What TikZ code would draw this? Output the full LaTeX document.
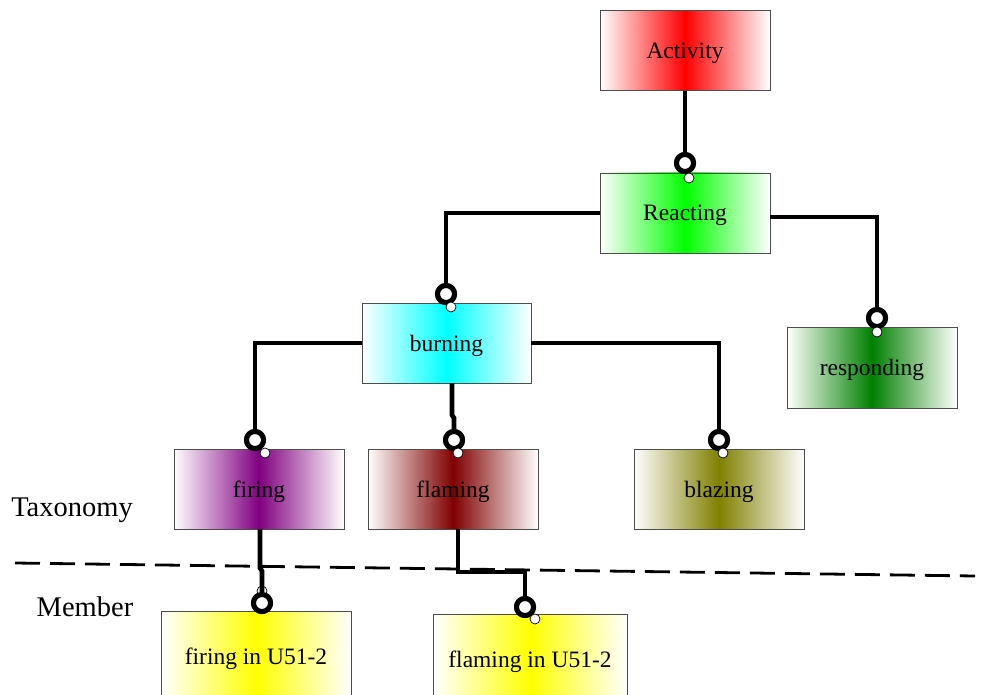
\documentclass[tikz,border=0pt]{standalone}
\usepackage{fontspec}
\setmainfont{Liberation Serif}
\definecolor{darkgreen}{RGB}{0,128,0}
\definecolor{violetpurple}{RGB}{128,0,128}
\definecolor{maroon}{RGB}{128,0,0}
\definecolor{olivebrown}{RGB}{128,128,0}
\begin{document}
\begin{tikzpicture}[x=1pt,y=-1pt,
  box/.style={draw=black!70,line width=0.8pt,minimum width=170pt,minimum height=80pt,
    inner sep=0pt,font=\fontsize{23.5}{28}\selectfont,
    left color=white,right color=white,middle color=#1},
  conn/.style={line width=4.6pt,line join=miter},
  ring/.style={circle,draw=black,fill=white,line width=5pt,minimum size=17pt,inner sep=0pt,outer sep=0pt},
  dot/.style={circle,draw=black,fill=white,line width=0.7pt,minimum size=10pt,inner sep=0pt},
  lbl/.style={font=\fontsize{28.5}{34}\selectfont}]
\useasboundingbox (0,0) rectangle (982,695);

% taxonomy / member divider
\draw[line width=2.8pt,dash pattern=on 25pt off 10pt] (15,563) -- (975,576);
\node[lbl] (tax) at (72,510) {Taxonomy};
\node[lbl] (mem) at (85,607) {Member};

% boxes (text sits a little below the box centre)
\begin{scope}[every node/.append style={text depth=0pt, text height=16pt}]
\node[box=red] (act) at (685,50.5) {Activity};
\node[box=green] (rea) at (685,213) {Reacting};
\node[box=cyan, minimum width=169pt] (bur) at (446.5,343) {burning};
\node[box=darkgreen, minimum height=81pt] (res) at (872,367.5) {responding};
\node[box=violetpurple] (fir) at (259,489) {firing};
\node[box=maroon] (fla) at (453,489) {flaming};
\node[box=olivebrown] (bla) at (719,489) {blazing};
\node[box=yellow, minimum width=190pt, minimum height=90pt] (fu) at (256,656) {firing in U51-2};
\node[box=yellow, minimum width=194pt, minimum height=90pt] (flu) at (530,659) {flaming in U51-2};
\end{scope}

% end rings of the connectors
\node[ring] (r1) at (685,163) {};
\node[ring] (r2) at (446,294) {};
\node[ring] (r3) at (877,318) {};
\node[ring] (r4) at (255,440) {};
\node[ring] (r5) at (454,440) {};
\node[ring] (r6) at (719,440) {};
\node[ring] (r7) at (262,603) {};
\node[ring] (r8) at (525,607) {};

% small marker hidden under the firing connector
\node[dot] (d7) at (262,591) {};

% connectors
\draw[conn] (act.south) -- (r1);
\draw[conn] (rea.west) -| (r2);
\draw[conn] ([yshift=-4pt]rea.east) -| (r3);
\draw[conn] (bur.west) -| (r4);
\draw[conn] ([xshift=5.5pt]bur.south) -- (452,415) -- (454,418) -- (r5);
\draw[conn] (bur.east) -| (r6);
\draw[conn] ([xshift=1pt]fir.south) -- (260,568) -- (262,571) -- (r7);
\draw[conn] ([xshift=5pt]fla.south) -- (458,572) -| (r8);

% redraw rings over the line ends
\foreach \r in {r1,r2,r3,r4,r5,r6,r7,r8}
  \node[ring] at (\r) {};

% small markers on the box tops
\node[dot] (d1) at (689,178) {};
\node[dot] (d2) at (451,307) {};
\node[dot] (d3) at (877,332) {};
\node[dot] (d4) at (265,453) {};
\node[dot] (d5) at (458,453) {};
\node[dot] (d6) at (723,453) {};
\node[dot] (d8) at (535,619) {};
\end{tikzpicture}
\end{document}
